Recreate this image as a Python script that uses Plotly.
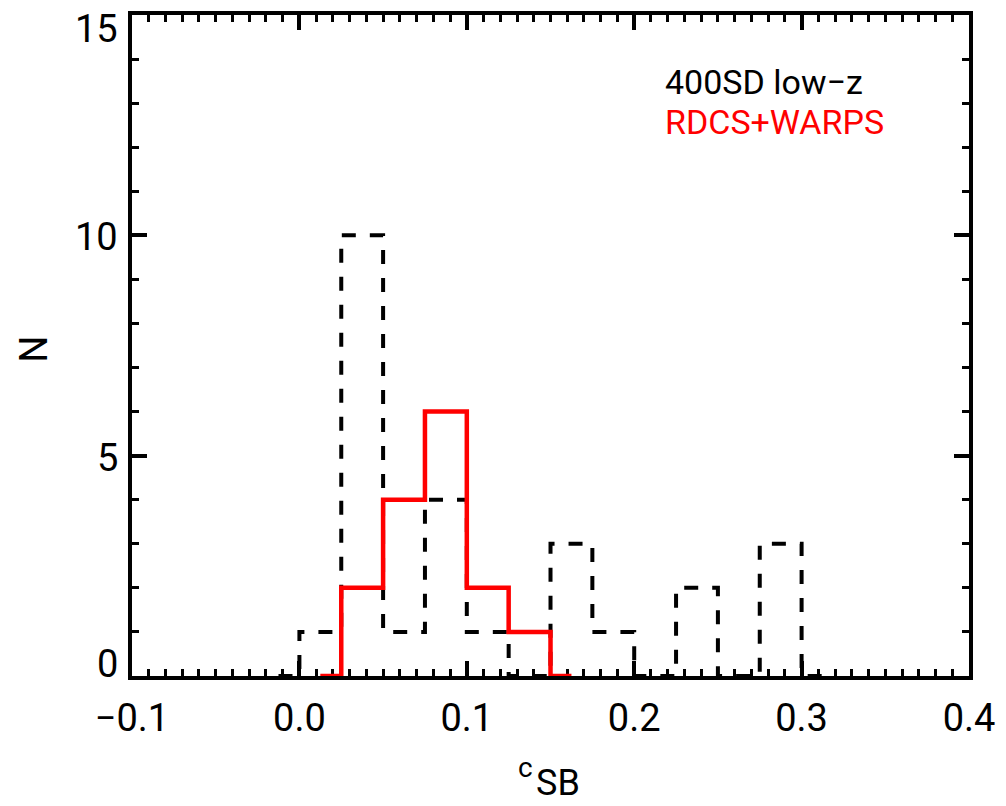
import plotly.graph_objects as go

# ---- data ----
# 400SD low-z histogram: bin centres and counts (zero-padded ends, IDL psym=10 style)
black_centers = [-0.0125, 0.0125, 0.0375, 0.0625, 0.0875, 0.1125, 0.1375,
                 0.1625, 0.1875, 0.2125, 0.2375, 0.2625, 0.2875, 0.3125]
black_counts = [0, 1, 10, 1, 4, 1, 0, 3, 1, 0, 2, 0, 3, 0]

# RDCS+WARPS histogram
red_centers = [0.0125, 0.0375, 0.0625, 0.0875, 0.1125, 0.1375, 0.1625]
red_counts = [0, 2, 4, 6, 2, 1, 0]

x_tick_vals = [-0.1, 0.0, 0.1, 0.2, 0.3, 0.4]
x_tick_text = ["\u22120.1", "0.0", "0.1", "0.2", "0.3", "0.4"]
y_tick_vals = [0, 5, 10, 15]
y_tick_text = ["0", "5", "10", "15"]

series_names = ["400SD low\u2212z", "RDCS+WARPS"]
x_title_main = "c"
x_title_sub = "SB"
y_title = "N"

FONT = "Roboto"
W, H = 1006, 806
ML, MR, MT, MB = 132, 31, 11, 130
PW, PH = W - ML - MR, H - MT - MB


def px_to_paper_x(px):
    return (px - ML) / PW


def px_to_paper_y(py):
    return (H - MB - py) / PH


fig = go.Figure()
fig.add_trace(go.Scatter(
    x=black_centers, y=black_counts, mode="lines", line_shape="hvh",
    line=dict(color="black", width=4, dash="14px,14px"),
    name=series_names[0], showlegend=False, hoverinfo="skip"))
fig.add_trace(go.Scatter(
    x=red_centers, y=red_counts, mode="lines", line_shape="hvh",
    line=dict(color="#ff0000", width=4.5),
    name=series_names[1], showlegend=False, hoverinfo="skip"))

axis_common = dict(
    showgrid=False, zeroline=False, showline=True, linecolor="black",
    linewidth=4, mirror="allticks", ticks="inside", tickcolor="black",
    tickwidth=4, ticklen=15, layer="below traces",
)

fig.update_xaxes(
    range=[-0.1, 0.4], tickvals=x_tick_vals, ticktext=x_tick_text,
    tickfont=dict(family=FONT, size=38, color="black"),
    ticklabelstandoff=5,
    minor=dict(dtick=0.01, ticks="inside", ticklen=7, tickwidth=3,
               tickcolor="black", showgrid=False),
    **axis_common)
fig.update_yaxes(
    range=[0, 15], tickvals=y_tick_vals, showticklabels=False,
    minor=dict(dtick=1, ticks="inside", ticklen=7, tickwidth=3,
               tickcolor="black", showgrid=False),
    **axis_common)

annotations = []
# y tick labels (first label sits just above the axis, last just below the top frame)
n_y = len(y_tick_vals)
for i, (v, t) in enumerate(zip(y_tick_vals, y_tick_text)):
    if i == 0:
        shift = 12
    elif i == n_y - 1:
        shift = -14
    else:
        shift = -2
    annotations.append(dict(
        x=0, xref="paper", y=v, yref="y", text=t, showarrow=False,
        xanchor="right", yanchor="middle", xshift=-12, yshift=shift,
        font=dict(family=FONT, size=38, color="black")))

# y axis title
annotations.append(dict(
    x=px_to_paper_x(33), y=px_to_paper_y(347), xref="paper", yref="paper",
    text=y_title, showarrow=False, textangle=-90,
    font=dict(family=FONT, size=38, color="black"),
    xanchor="center", yanchor="middle"))

# x axis title c_SB
annotations.append(dict(
    x=px_to_paper_x(528), y=px_to_paper_y(768), xref="paper", yref="paper",
    text=x_title_main, showarrow=False,
    font=dict(family=FONT, size=28, color="black"),
    xanchor="center", yanchor="middle"))
annotations.append(dict(
    x=px_to_paper_x(561), y=px_to_paper_y(784), xref="paper", yref="paper",
    text=x_title_sub, showarrow=False,
    font=dict(family=FONT, size=36, color="black"),
    xanchor="center", yanchor="middle"))

# legend texts
annotations.append(dict(
    x=px_to_paper_x(667), y=px_to_paper_y(78), xref="paper", yref="paper",
    text=series_names[0], showarrow=False,
    font=dict(family=FONT, size=34, color="black"),
    xanchor="left", yanchor="middle"))
annotations.append(dict(
    x=px_to_paper_x(667), y=px_to_paper_y(119), xref="paper", yref="paper",
    text=series_names[1], showarrow=False,
    font=dict(family=FONT, size=34, color="#ff0000"),
    xanchor="left", yanchor="middle"))

fig.update_layout(
    width=W, height=H,
    margin=dict(l=ML, r=MR, t=MT, b=MB, pad=0),
    paper_bgcolor="white", plot_bgcolor="white",
    showlegend=False,
    annotations=annotations,
)

fig.write_html(
    "out.html",
    config={"displayModeBar": False},
    post_script="document.body.style.margin='0';document.body.style.overflow='hidden';",
)
